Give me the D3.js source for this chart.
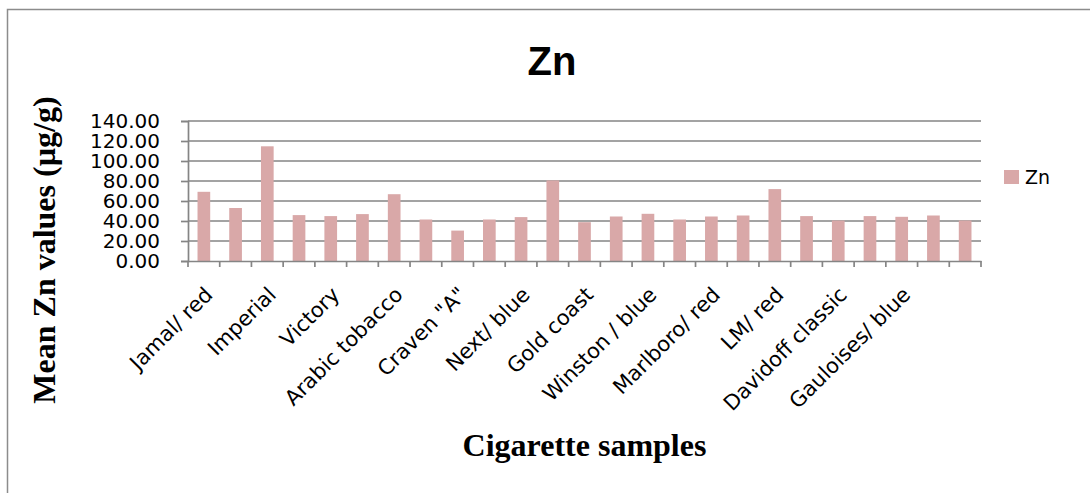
<!DOCTYPE html>
<html>
<head>
<meta charset="utf-8">
<script src="https://cdn.jsdelivr.net/npm/d3@7"></script>
<style>
  html, body { margin: 0; padding: 0; background: #fff; }
  svg { display: block; }
</style>
</head>
<body>
<svg id="chart" width="1090" height="493"></svg>
<script>
// Mean Zn content per cigarette sample (µg/g)
const samples = d3.range(25);
const sampleLabels = [
  "Jamal/ red", "", "Imperial", "", "Victory", "", "Arabic tobacco", "",
  "Craven \"A\"", "", "Next/ blue", "", "Gold coast", "", "Winston / blue", "",
  "Marlboro/ red", "", "LM/ red", "", "Davidoff classic", "", "Gauloises/ blue", "", ""
];
const znValues = [
  69.2, 53.0, 114.7, 45.9, 44.9, 46.9, 66.8, 41.5,
  30.4, 41.5, 43.9, 80.6, 38.8, 44.5, 47.2, 41.5,
  44.5, 45.5, 71.9, 44.9, 40.5, 44.9, 44.2, 45.5, 40.5
];
const yTicks = [0, 20, 40, 60, 80, 100, 120, 140];
const seriesName = "Zn";

const svg = d3.select("#chart");
const barColor = "#d9a8a8";
const gridColor = "#858585";
const tickFont = "'DejaVu Sans', Verdana, sans-serif";
const serif = "'Liberation Serif', 'Times New Roman', serif";

// outer chart frame
svg.append("rect")
  .attr("x", 7.5).attr("y", 9.5)
  .attr("width", 1200).attr("height", 600)
  .attr("fill", "none").attr("stroke", "#8c8c8c").attr("stroke-width", 1.5);

const plot = { left: 188, right: 981, top: 121, bottom: 261 };

const x = d3.scaleBand()
  .domain(samples)
  .range([plot.left, plot.right])
  .paddingInner(0.6)
  .paddingOuter(0.3);

const y = d3.scaleLinear()
  .domain([0, 140])
  .range([plot.bottom, plot.top]);

// horizontal gridlines
svg.append("g")
  .selectAll("line")
  .data(yTicks.filter(d => d > 0))
  .join("line")
  .attr("x1", plot.left).attr("x2", plot.right)
  .attr("y1", d => y(d)).attr("y2", d => y(d))
  .attr("stroke", gridColor).attr("stroke-width", 1.7);

// bars
svg.append("g")
  .selectAll("rect")
  .data(znValues)
  .join("rect")
  .attr("x", (d, i) => x(samples[i]))
  .attr("y", d => y(d))
  .attr("width", x.bandwidth())
  .attr("height", d => y(0) - y(d))
  .attr("fill", barColor);

// y axis
const yAxis = svg.append("g")
  .attr("transform", `translate(${plot.left},0)`)
  .call(d3.axisLeft(y).tickValues(yTicks).tickFormat(d3.format(".2f")).tickSize(7).tickPadding(21));
yAxis.select(".domain").attr("stroke", gridColor).attr("stroke-width", 1.7);
yAxis.selectAll(".tick line").attr("stroke", gridColor).attr("stroke-width", 1.7);
yAxis.selectAll(".tick text")
  .attr("font-family", tickFont).attr("font-size", 20).attr("fill", "#000");

// x axis: labels at category centres, tick marks on category boundaries
const xAxis = svg.append("g")
  .attr("transform", `translate(0,${plot.bottom})`)
  .call(d3.axisBottom(x).tickFormat(i => sampleLabels[i]).tickSize(0).tickSizeOuter(0));
xAxis.select(".domain").attr("stroke", gridColor).attr("stroke-width", 1.7);
xAxis.selectAll(".tick text")
  .attr("font-family", tickFont).attr("font-size", 21).attr("fill", "#000")
  .attr("text-anchor", "end")
  .attr("x", 0).attr("y", 0).attr("dy", 0)
  .attr("transform", "translate(10,35) rotate(-45)");

const step = x.step();
svg.append("g")
  .selectAll("line")
  .data(d3.range(samples.length + 1))
  .join("line")
  .attr("x1", i => plot.left + i * step).attr("x2", i => plot.left + i * step)
  .attr("y1", plot.bottom).attr("y2", plot.bottom + 6)
  .attr("stroke", gridColor).attr("stroke-width", 1.7);

// title
svg.append("text")
  .attr("x", 552).attr("y", 75)
  .attr("text-anchor", "middle")
  .attr("font-family", "'Liberation Sans', Arial, sans-serif")
  .attr("font-weight", "bold").attr("font-size", 40)
  .text("Zn");

// axis titles
svg.append("text")
  .attr("x", (plot.left + plot.right) / 2).attr("y", 456)
  .attr("text-anchor", "middle")
  .attr("font-family", serif).attr("font-weight", "bold").attr("font-size", 32)
  .text("Cigarette samples");

svg.append("text")
  .attr("transform", "translate(55,250) rotate(-90)")
  .attr("text-anchor", "middle")
  .attr("font-family", serif).attr("font-weight", "bold").attr("font-size", 32)
  .text("Mean Zn values (µg/g)");

// legend
const legend = svg.append("g").attr("transform", "translate(1004,170)");
legend.append("rect").attr("width", 15).attr("height", 14).attr("fill", barColor);
legend.append("text")
  .attr("x", 21).attr("y", 7).attr("dy", "0.35em")
  .attr("font-family", tickFont).attr("font-size", 19).attr("fill", "#000")
  .text(seriesName);
</script>
</body>
</html>
